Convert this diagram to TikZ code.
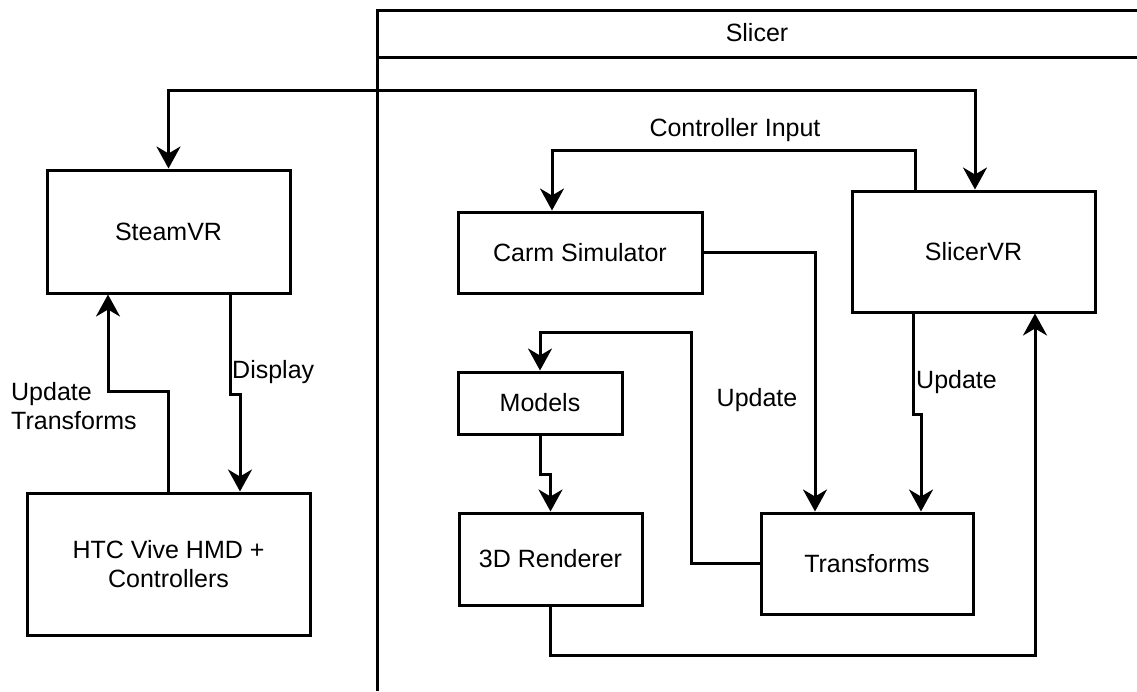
\documentclass[tikz,border=0pt]{standalone}
\usepackage{fontspec}
\setmainfont{Liberation Sans}
\usetikzlibrary{arrows.meta}
\begin{document}
\begin{tikzpicture}[x=1pt,y=-1pt,
  txt/.style={font=\fontsize{25}{29}\selectfont, text=black},
  box/.style={draw, line width=3pt, rectangle, align=center, inner sep=0pt, txt},
  lbl/.style={inner sep=0pt, txt},
  conn/.style={line width=3pt, -{Stealth[length=22pt,width=24pt,inset=7pt]}},
  plain/.style={line width=3pt}]
\useasboundingbox (0,0) rectangle (1137,691);
% pool
\draw[plain] (377,691) -- (377,10) -- (1145,10);
\draw[plain] (377,57) -- (1145,57);
\node[lbl] (slicer) at (757,33) {Slicer};
% boxes
\node[box, minimum width=243pt, minimum height=123pt] (steam) at (168.5,231.5) {SteamVR};
\node[box, minimum width=283pt, minimum height=142pt] (htc) at (168.5,564) {HTC Vive HMD +\\Controllers};
\node[box, minimum width=244pt, minimum height=81pt] (carm) at (580,252.5) {Carm Simulator};
\node[box, minimum width=243pt, minimum height=121pt] (svr) at (973.5,251.5) {SlicerVR};
\node[box, minimum width=164pt, minimum height=62pt] (models) at (540,403) {Models};
\node[box, minimum width=183pt, minimum height=92pt] (render) at (550.5,559) {3D Renderer};
\node[box, minimum width=212pt, minimum height=101pt] (trans) at (867,563.5) {Transforms};
% connectors
\draw[line width=3pt, {Stealth[length=22pt,width=24pt,inset=7pt]}-{Stealth[length=22pt,width=24pt,inset=7pt]}]
  (steam.north) -- ++(0,-78) -| ([xshift=1.5pt]svr.north);
\draw[conn] ([xshift=-58.5pt]svr.north) -- ++(0,-39) -| ([xshift=-28pt]carm.north);
\draw[conn] (carm.east) -| ([xshift=-52pt]trans.north);
\draw[conn] ([xshift=-60.5pt]svr.south) -- ++(0,101) -| ([xshift=54pt]trans.north);
\coordinate (tm) at (691,332);
\draw[conn] (trans.west) -| (tm) -| (models.north);
\draw[conn] (models.south) -- ++(0,39) -| (render.north);
\draw[conn] (render.south) -- ++(0,49) -| ([xshift=61.5pt]svr.south);
\draw[conn] (htc.north) -- ++(0,-100) -| ([xshift=-60.5pt]steam.south);
\draw[conn] ([xshift=61.5pt]steam.south) -- ++(0,100) -| ([xshift=71.5pt]htc.north);
% labels
\node[lbl] (lci) at (735,130) {Controller Input};
\node[lbl] (lup1) at (757,400) {Update};
\node[lbl, anchor=west] (lup2) at (916,382) {Update};
\node[lbl, anchor=west] (ldisp) at (232,372) {Display};
\node[lbl, anchor=west, align=left] (lut) at (11,406) {Update\\Transforms};
\end{tikzpicture}
\end{document}
